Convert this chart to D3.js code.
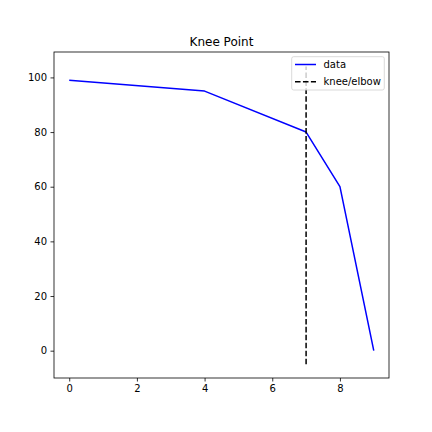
<!DOCTYPE html>
<html><head><meta charset="utf-8">
<script src="https://cdn.jsdelivr.net/npm/d3@7"></script>
<style>body{margin:0;background:#fff}svg{display:block}text{font-family:"DejaVu Sans",sans-serif}</style>
</head><body>
<script>
const xValues = [0, 4, 7, 8, 9];
const yValues = [99, 95, 80, 60, 0];
const kneeX = 7;
const kneeSpan = [-4.95, 103.95];
const xTicks = [0, 2, 4, 6, 8];
const yTicks = [0, 20, 40, 60, 80, 100];
const legendLabels = ["data", "knee/elbow"];
const title = "Knee Point";

const W = 432, H = 432;
const L = 54, R = 389, T = 52, B = 378;
const svg = d3.select("body").append("svg").attr("width", W).attr("height", H);
const x = d3.scaleLinear().domain([-0.45, 9.45]).range([L, R]);
const y = d3.scaleLinear().domain([-10.0, 109.3]).range([B, T]);

const g = svg.append("g");
g.append("path").datum(xValues.map((v, i) => [v, yValues[i]]))
  .attr("fill", "none").attr("stroke", "#0000ff").attr("stroke-width", 1.5)
  .attr("stroke-linejoin", "round")
  .attr("d", d3.line().x(d => x(d[0])).y(d => y(d[1])));
g.append("line").attr("x1", x(kneeX)).attr("x2", x(kneeX))
  .attr("y1", y(kneeSpan[0])).attr("y2", y(kneeSpan[1]))
  .attr("stroke", "#000").attr("stroke-width", 1.5).attr("stroke-dasharray", "5.55 2.4");

const xa = svg.append("g").attr("transform", `translate(0,${B})`)
  .call(d3.axisBottom(x).tickValues(xTicks).tickSize(3.5).tickPadding(3.5).tickFormat(d3.format("d")));
const ya = svg.append("g").attr("transform", `translate(${L},0)`)
  .call(d3.axisLeft(y).tickValues(yTicks).tickSize(3.5).tickPadding(3.5).tickFormat(d3.format("d")));
[xa, ya].forEach(a => {
  a.select(".domain").remove();
  a.selectAll("text").attr("font-size", 10).attr("fill", "#000").style("font-family", "DejaVu Sans");
  a.selectAll("line").attr("stroke", "#000").attr("stroke-width", 0.8);
});
svg.append("rect").attr("x", L).attr("y", T).attr("width", R - L).attr("height", B - T)
  .attr("fill", "none").attr("stroke", "#000").attr("stroke-width", 0.8);

svg.append("text").attr("x", (L + R) / 2).attr("y", 46).attr("text-anchor", "middle")
  .attr("font-size", 12).attr("fill", "#000").text(title);

const lg = svg.append("g");
lg.append("rect").attr("x", 291.7).attr("y", 56.7).attr("width", 92.6).attr("height", 33.3)
  .attr("rx", 2).attr("fill", "#fff").attr("fill-opacity", 0.8).attr("stroke", "#d0d0d0").attr("stroke-width", 0.8);
const styles = [{c: "#0000ff", dash: null}, {c: "#000", dash: "5.55 2.4"}];
legendLabels.forEach((lab, i) => {
  const yy = 64.5 + i * 17.2;
  lg.append("line").attr("x1", 295).attr("x2", 316).attr("y1", yy).attr("y2", yy)
    .attr("stroke", styles[i].c).attr("stroke-width", 1.5).attr("stroke-dasharray", styles[i].dash);
  lg.append("text").attr("x", 323.5).attr("y", yy + 3.6).attr("font-size", 10).attr("fill", "#000").text(lab);
});
</script>
</body></html>
